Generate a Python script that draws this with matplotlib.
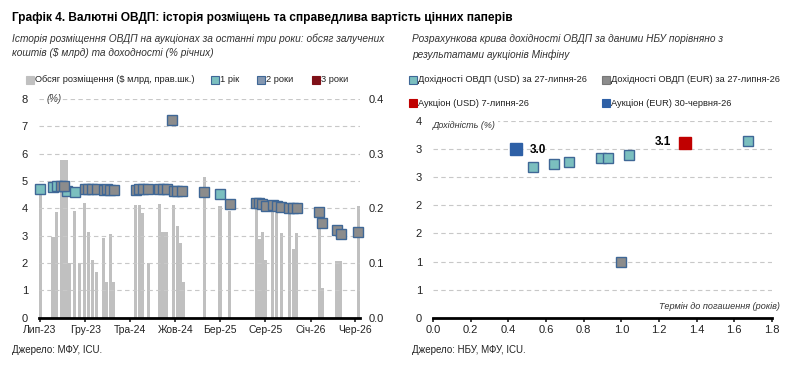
import numpy as np
import pandas as pd
import matplotlib
matplotlib.use('Agg')
import matplotlib.pyplot as plt
from matplotlib.lines import Line2D
from matplotlib.ticker import FuncFormatter, MultipleLocator

plt.rcParams['font.family'] = ['Liberation Sans', 'DejaVu Sans']

## Left chart data: auctions (volume, $ bn) and yields (%)
bar_dates = ['2023-07-02', '2023-08-14', '2023-08-27', '2023-09-11', '2023-09-20', '2023-09-29',
             '2023-10-08', '2023-10-27', '2023-11-11', '2023-11-30', '2023-12-12', '2023-12-25',
             '2024-01-09', '2024-02-02', '2024-02-12', '2024-02-24', '2024-03-06', '2024-05-20',
             '2024-06-01', '2024-06-13', '2024-07-02', '2024-08-08', '2024-08-20', '2024-09-01',
             '2024-09-25', '2024-10-08', '2024-10-18', '2024-10-28', '2025-01-07', '2025-03-01',
             '2025-04-03', '2025-07-02', '2025-07-13', '2025-07-22', '2025-08-02', '2025-08-26',
             '2025-09-09', '2025-09-24', '2025-10-21', '2025-11-03', '2025-11-15', '2026-01-30',
             '2026-02-09', '2026-03-31', '2026-04-13', '2026-06-11']
bar_volume = [0.235, 0.147, 0.194, 0.289, 0.289, 0.289,
              0.100, 0.195, 0.100, 0.210, 0.157, 0.105,
              0.084, 0.146, 0.066, 0.153, 0.065, 0.206,
              0.206, 0.191, 0.100, 0.208, 0.157, 0.157,
              0.206, 0.168, 0.136, 0.066, 0.258, 0.205,
              0.195, 0.206, 0.144, 0.156, 0.105, 0.200,
              0.200, 0.155, 0.200, 0.125, 0.155, 0.198,
              0.055, 0.103, 0.103, 0.205]

y1_dates = ['2023-07-02', '2023-08-14', '2023-08-27', '2023-10-02', '2023-10-27', '2025-03-01']
y1_yield = [4.72, 4.78, 4.80, 4.65, 4.58, 4.53]

y2_dates = ['2023-09-11', '2023-09-21', '2023-11-30', '2023-12-12', '2023-12-25', '2024-01-09',
            '2024-02-02', '2024-02-12', '2024-02-24', '2024-03-06', '2024-05-20', '2024-06-01',
            '2024-06-13', '2024-07-02', '2024-08-08', '2024-08-20', '2024-09-01', '2024-09-18',
            '2024-09-25', '2024-10-08', '2024-10-22', '2025-01-07', '2025-04-03', '2025-07-02',
            '2025-07-09', '2025-07-22', '2025-08-04', '2025-08-26', '2025-09-09', '2025-09-24',
            '2025-10-21', '2025-11-03', '2025-11-15', '2026-01-30', '2026-02-09', '2026-03-31',
            '2026-04-13', '2026-06-11']
y2_yield = [4.80, 4.80, 4.72, 4.70, 4.70, 4.70,
            4.68, 4.70, 4.68, 4.68, 4.66, 4.70,
            4.72, 4.72, 4.72, 4.72, 4.70, 7.22,
            4.64, 4.64, 4.64, 4.58, 4.16, 4.21,
            4.20, 4.16, 4.10, 4.14, 4.08, 4.05,
            4.02, 4.02, 4.03, 3.85, 3.46, 3.19,
            3.07, 3.12]

x_tick_dates = ['2023-07-01', '2023-12-01', '2024-05-01', '2024-10-01', '2025-03-01',
                '2025-08-01', '2026-01-01', '2026-06-01']
x_tick_labels = ['Лип-23', 'Гру-23', 'Тра-24', 'Жов-24', 'Бер-25', 'Сер-25', 'Січ-26', 'Чер-26']

## Right chart data: yield curve vs auctions
usd_term = [0.53, 0.64, 0.72, 0.89, 0.93, 1.04, 1.67]
usd_yield = [2.68, 2.73, 2.77, 2.84, 2.85, 2.90, 3.14]
eur_term = [1.0]
eur_yield = [1.0]
auc_usd_term = [1.34]
auc_usd_yield = [3.11]
auc_eur_term = [0.44]
auc_eur_yield = [3.00]

TEAL = '#7bbfbf'
GRAY_M = '#8c8c8c'
EDGE = '#3f6796'
BAR = '#c0c0c0'
GRID = '#c8c8c8'
TXT = '#222222'
RED = '#c00000'
BLUE = '#2e60a6'

fig = plt.figure(figsize=(8.04, 3.76), dpi=100)


def px(x, y):
    return x / 804, 1 - y / 376


def legend_item(x, y, text, mfc, mec, ms=5.5):
    fig.add_artist(Line2D([px(x, y)[0]], [px(x, y)[1]], marker='s', ms=ms, mfc=mfc, mec=mec,
                          mew=0.8, linestyle='none', transform=fig.transFigure))
    fig.text(*px(x + 5, y), text, fontsize=6.7, va='center', ha='left', color=TXT)


fig.text(*px(12, 18), 'Графік 4. Валютні ОВДП: історія розміщень та справедлива вартість цінних паперів',
         fontsize=8.6, fontweight='bold', va='center', color='black')
fig.text(*px(12, 46), 'Історія розміщення ОВДП на аукціонах за останні три роки: обсяг залучених\nкоштів ($ млрд) та доходності (% річних)',
         fontsize=7.3, style='italic', va='center', color='#333333', linespacing=1.55)
fig.text(*px(412, 47), 'Розрахункова крива дохідності ОВДП за даними НБУ порівняно з\nрезультатами аукціонів Мінфіну',
         fontsize=7.3, style='italic', va='center', color='#333333', linespacing=1.75)

## Left chart
ax = fig.add_axes([39/804, 1-317.7/376, 321/804, (317.7-99)/376])
ax2 = ax.twinx()
ax.set_zorder(ax2.get_zorder() + 1)
ax.patch.set_visible(False)

ax2.bar(pd.to_datetime(bar_dates), bar_volume, width=11, color=BAR, linewidth=0)
ax2.set_ylim(0, 0.4)
ax.set_ylim(0, 8)

ax.plot(pd.to_datetime(y1_dates), y1_yield, 's', ms=7, mfc=TEAL, mec=EDGE, mew=1,
        linestyle='none', clip_on=False)
ax.plot(pd.to_datetime(y2_dates), y2_yield, 's', ms=7, mfc=GRAY_M, mec=EDGE, mew=1,
        linestyle='none', clip_on=False)

ax.set_xlim(pd.Timestamp('2023-06-28'), pd.Timestamp('2026-06-17'))
ax.set_xticks(pd.to_datetime(x_tick_dates))
ax.set_xticklabels(x_tick_labels)
ax.set_yticks(range(0, 9))
ax2.set_yticks([0.0, 0.1, 0.2, 0.3, 0.4])
ax2.yaxis.set_major_formatter(FuncFormatter(lambda v, p: f'{v:.1f}'))

for a in (ax, ax2):
    for s in ['top', 'left', 'right', 'bottom']:
        a.spines[s].set_visible(False)
ax.spines['bottom'].set_visible(True)
ax.spines['bottom'].set_linewidth(2)
ax.spines['bottom'].set_color('black')
ax.tick_params(axis='y', length=0, pad=8, labelsize=8, colors=TXT)
ax2.tick_params(axis='y', length=0, pad=6, labelsize=8, colors=TXT)
ax.tick_params(axis='x', length=3, width=1.2, pad=2, labelsize=7.5, colors=TXT)
ax.yaxis.grid(True, color=GRID, linestyle=(0, (4, 3)), linewidth=0.8)
ax.set_axisbelow(True)
ax.text(0.025, 8, '(%)', fontsize=7, style='italic', va='center', color='#444444',
        transform=ax.get_yaxis_transform())

legend_item(30, 80, 'Обсяг розміщення ($ млрд, прав.шк.)', BAR, BAR, ms=6)
legend_item(215, 80, '1 рік', TEAL, EDGE)
legend_item(261, 80, '2 роки', '#8497b0', EDGE)
legend_item(316, 80, '3 роки', '#7f1018', '#7f1018')

fig.text(*px(12, 350), 'Джерело: МФУ, ICU.', fontsize=7, va='center', color=TXT)

## Right chart
bx = fig.add_axes([433/804, 1-317.7/376, 339/804, (317.7-121)/376])
bx.plot(usd_term, usd_yield, 's', ms=7, mfc=TEAL, mec=EDGE, mew=1, linestyle='none')
bx.plot(eur_term, eur_yield, 's', ms=7, mfc=GRAY_M, mec=EDGE, mew=1, linestyle='none')
bx.plot(auc_usd_term, auc_usd_yield, 's', ms=8.5, color=RED, linestyle='none')
bx.plot(auc_eur_term, auc_eur_yield, 's', ms=8.5, color=BLUE, linestyle='none')
bx.annotate(f'{auc_eur_yield[0]:.1f}', (auc_eur_term[0], auc_eur_yield[0]), xytext=(10, -1),
            textcoords='offset points', fontsize=8.5, fontweight='bold', va='center', ha='left')
bx.annotate(f'{auc_usd_yield[0]:.1f}', (auc_usd_term[0], auc_usd_yield[0]), xytext=(-10, 1),
            textcoords='offset points', fontsize=8.5, fontweight='bold', va='center', ha='right')

bx.set_xlim(0, 1.8)
bx.set_ylim(0, 3.5)
bx.xaxis.set_major_locator(MultipleLocator(0.2))
bx.yaxis.set_major_locator(MultipleLocator(0.5))
bx.xaxis.set_major_formatter(FuncFormatter(lambda v, p: f'{v:.1f}'))
bx.yaxis.set_major_formatter(FuncFormatter(lambda v, p: str(int(np.floor(v + 0.5)))))
for s in ['top', 'left', 'right']:
    bx.spines[s].set_visible(False)
bx.spines['bottom'].set_linewidth(2)
bx.spines['bottom'].set_color('black')
bx.tick_params(axis='y', length=0, pad=8, labelsize=8, colors=TXT)
bx.tick_params(axis='x', length=3, width=1.2, pad=2, labelsize=8, colors=TXT)
bx.yaxis.grid(True, color=GRID, linestyle=(0, (4, 3)), linewidth=0.8)
bx.set_axisbelow(True)
bx.text(0.0, 3.5, 'Дохідність (%)', fontsize=6.5, style='italic', va='top', ha='left',
        color='#333333', bbox=dict(facecolor='white', edgecolor='none', pad=1.5))
bx.text(1.84, 0.12, 'Термін до погашення (років)', fontsize=6.6, style='italic', va='bottom',
        ha='right', color='#333333', clip_on=False)

legend_item(413, 80, 'Дохідності ОВДП (USD) за 27-липня-26', TEAL, EDGE, ms=6)
legend_item(606, 80, 'Дохідності ОВДП (EUR) за 27-липня-26', GRAY_M, '#777777', ms=6)
legend_item(413, 103, 'Аукціон (USD) 7-липня-26', RED, RED, ms=6)
legend_item(606, 103, 'Аукціон (EUR) 30-червня-26', BLUE, BLUE, ms=6)

fig.text(*px(412, 350), 'Джерело: НБУ, МФУ, ICU.', fontsize=7, va='center', color=TXT)

fig.savefig('out.png', dpi=100)
